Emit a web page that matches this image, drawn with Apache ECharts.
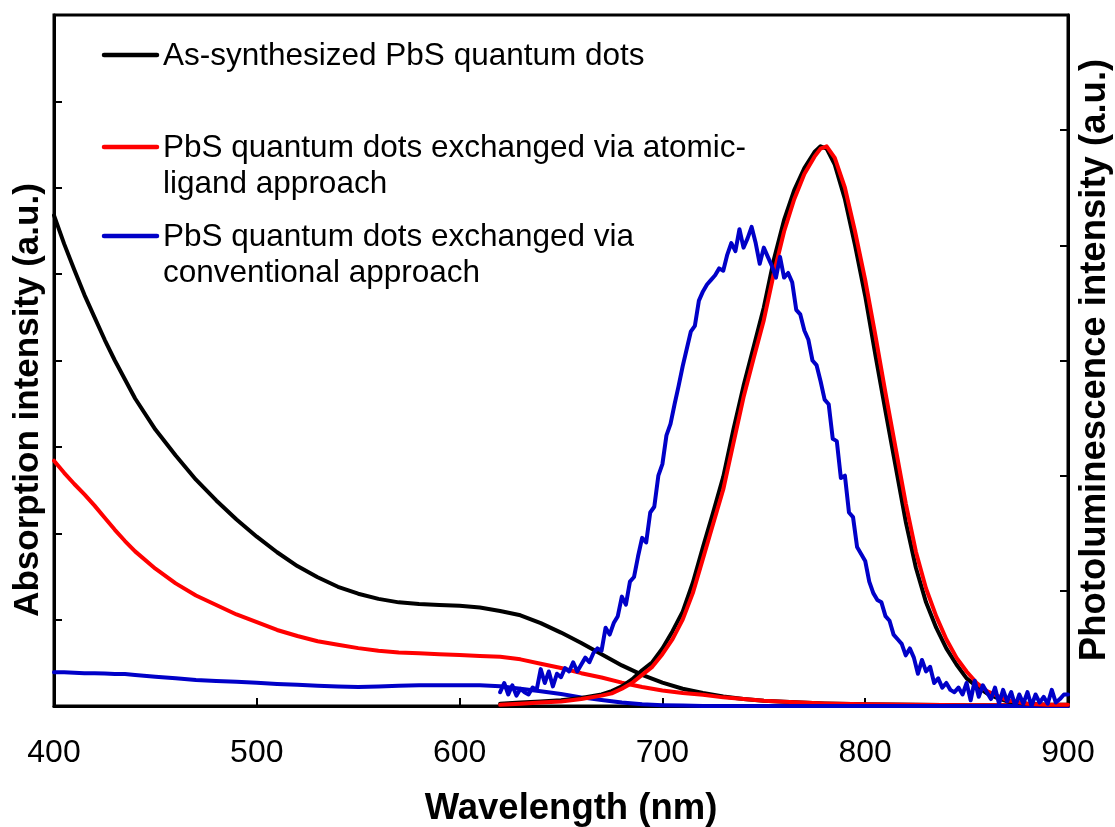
<!DOCTYPE html>
<html>
<head>
<meta charset="utf-8">
<script src="https://cdn.jsdelivr.net/npm/echarts@6/dist/echarts.min.js"></script>
<style>
html,body{margin:0;padding:0;background:#fff;}
#chart{width:1115px;height:827px;}
</style>
</head>
<body>
<div id="chart"></div>
<script>
// ---------- DATA ----------
const seriesNames = [
  'As-synthesized PbS quantum dots',
  'PbS quantum dots exchanged via atomic-\nligand approach',
  'PbS quantum dots exchanged via\nconventional approach'
];
const xTicks = [400, 500, 600, 700, 800, 900];

// Absorption (left axis)
const absWave = [400,405,410,415,420,425,430,435,440,450,460,470,480,490,500,510,520,530,540,550,560,570,580,590,600,610,620,630,640,650,660,670,680,690,700,710,720,730,740,750,760,780,800,850,900];
const absBlack = [5.68,5.35,5.05,4.76,4.5,4.24,4.0,3.78,3.56,3.2,2.9,2.62,2.38,2.16,1.96,1.78,1.62,1.49,1.38,1.3,1.24,1.2,1.18,1.17,1.16,1.14,1.1,1.05,0.96,0.85,0.73,0.6,0.47,0.36,0.27,0.2,0.15,0.11,0.08,0.06,0.05,0.03,0.02,0.01,0.01];
const absRed = [2.84,2.7,2.57,2.45,2.32,2.18,2.04,1.91,1.79,1.59,1.42,1.28,1.17,1.06,0.97,0.88,0.81,0.75,0.71,0.67,0.64,0.62,0.61,0.6,0.59,0.58,0.57,0.54,0.49,0.44,0.38,0.33,0.27,0.22,0.18,0.15,0.13,0.1,0.08,0.06,0.05,0.03,0.02,0.01,0.01];
const absBlue = [0.39,0.39,0.385,0.38,0.38,0.375,0.37,0.37,0.36,0.34,0.32,0.3,0.29,0.28,0.27,0.255,0.245,0.235,0.225,0.22,0.225,0.235,0.24,0.24,0.24,0.24,0.23,0.2,0.17,0.14,0.1,0.07,0.04,0.02,0.01,0.005,0,0,0,0,0,0,0,0,0];

// Photoluminescence (right axis)
const plWave = [620,630,640,650,660,670,675,680,685,690,695,700,705,710,715,720,725,730,735,740,745,750,755,760,765,770,775,778,781,785,790,795,800,805,810,815,820,825,830,835,840,845,850,855,860,865,870,880,890,900];
const plBlack = [0.02,0.03,0.04,0.05,0.07,0.1,0.13,0.17,0.23,0.31,0.38,0.5,0.65,0.82,1.07,1.38,1.68,1.99,2.4,2.78,3.12,3.46,3.88,4.22,4.48,4.67,4.81,4.86,4.84,4.7,4.4,4.0,3.56,3.05,2.56,2.08,1.6,1.2,0.9,0.68,0.5,0.36,0.24,0.17,0.11,0.07,0.04,0.02,0.01,0.01];
const plRed = [0.01,0.02,0.03,0.04,0.06,0.09,0.11,0.15,0.2,0.27,0.34,0.45,0.58,0.75,0.98,1.28,1.58,1.88,2.28,2.68,3.02,3.35,3.76,4.12,4.4,4.62,4.77,4.84,4.86,4.76,4.5,4.12,3.7,3.22,2.72,2.24,1.76,1.34,1.02,0.78,0.58,0.42,0.3,0.2,0.13,0.09,0.05,0.02,0.01,0.01];
const plBlue = [[620,0.12],[622,0.2],[624,0.1],[626,0.18],[628,0.09],[630,0.15],[632,0.12],[634,0.1],[636,0.16],[638,0.14],[640,0.32],[642,0.2],[644,0.3],[646,0.17],[648,0.28],[650,0.25],[652,0.33],[654,0.3],[656,0.38],[658,0.3],[660,0.36],[662,0.42],[664,0.38],[666,0.46],[668,0.5],[670,0.48],[672,0.68],[674,0.62],[676,0.72],[678,0.78],[680,0.95],[682,0.88],[684,1.08],[686,1.12],[688,1.3],[690,1.46],[692,1.42],[694,1.68],[696,1.73],[698,2.0],[700,2.1],[702,2.35],[704,2.45],[706,2.62],[708,2.78],[710,2.95],[712,3.1],[714,3.25],[716,3.3],[718,3.52],[720,3.6],[722,3.66],[724,3.7],[726,3.74],[728,3.8],[730,3.78],[732,3.92],[734,4.02],[736,3.95],[738,4.14],[740,3.98],[742,4.06],[744,4.16],[746,4.02],[748,3.84],[750,3.98],[752,3.9],[754,3.82],[756,3.72],[758,3.9],[760,3.72],[762,3.76],[764,3.68],[766,3.44],[768,3.4],[770,3.26],[772,3.18],[774,3.0],[776,2.96],[778,2.82],[780,2.66],[782,2.62],[784,2.32],[786,2.3],[788,1.98],[790,2.0],[792,1.68],[794,1.64],[796,1.38],[798,1.32],[800,1.26],[802,1.08],[804,0.98],[806,0.92],[808,0.9],[810,0.78],[812,0.74],[814,0.62],[816,0.58],[818,0.54],[820,0.44],[822,0.5],[824,0.42],[826,0.28],[828,0.4],[830,0.3],[832,0.34],[834,0.2],[836,0.24],[838,0.16],[840,0.2],[842,0.14],[844,0.12],[846,0.16],[848,0.1],[850,0.2],[852,0.05],[854,0.22],[856,0.08],[858,0.18],[860,0.12],[862,0.06],[864,0.16],[866,0.02],[868,0.14],[870,0.04],[872,0.12],[874,0.0],[876,0.1],[878,0.02],[880,0.12],[882,0.0],[884,0.1],[886,0.03],[888,0.08],[890,0.02],[892,0.14],[894,0.03],[896,0.06],[898,0.1],[900,0.1]];

const colors = ['#000000', '#ff0000', '#0000c8'];
// ---------- CHART ----------
const zip = (xs, ys) => xs.map((x, i) => [x, ys[i]]);
const FONT = '"Liberation Sans", Arial, sans-serif';
const chart = echarts.init(document.getElementById('chart'), null, {renderer: 'canvas'});

const G = {left: 54, right: 47, top: 15, bottom: 121};
function lineSeries(name, data, color, yIdx, z) {
  return {name, type: 'line', data, yAxisIndex: yIdx, showSymbol: false, symbol: 'none',
    smooth: false,
    lineStyle: {color, width: 4, join: 'round', cap: 'round'}, z, silent: true};
}

const legendGraphics = [];
const legendY = [55, 147, 236];
seriesNames.forEach((n, i) => {
  legendGraphics.push({type: 'line', shape: {x1: 104, y1: legendY[i], x2: 157, y2: legendY[i]},
    style: {stroke: colors[i], lineWidth: 4.5, lineCap: 'round'}, z: 100});
  legendGraphics.push({type: 'text', x: 163, y: legendY[i] - 17,
    style: {text: n, font: '31.5px ' + FONT, fill: '#000', lineHeight: 36,
      textAlign: 'left', textVerticalAlign: 'top', align: 'left', verticalAlign: 'top'}, z: 100});
});

chart.setOption({
  animation: false,
  backgroundColor: '#fff',
  grid: {left: G.left, right: G.right, top: G.top, bottom: G.bottom, show: true,
    borderColor: '#000', borderWidth: 3, backgroundColor: 'transparent'},
  xAxis: {
    type: 'value', min: 400, max: 900, interval: 100,
    axisLine: {show: true, lineStyle: {color: '#000', width: 3}},
    axisTick: {show: true, inside: true, length: 8, lineStyle: {color: '#000', width: 2}},
    axisLabel: {show: true, margin: 31, color: '#000', fontSize: 32, fontFamily: FONT,
      formatter: v => (xTicks.indexOf(v) >= 0 ? String(v) : '')},
    splitLine: {show: false}
  },
  yAxis: [
    {type: 'value', min: 0, max: 8, interval: 1, position: 'left',
      axisLine: {show: true, lineStyle: {color: '#000', width: 3}},
      axisTick: {show: true, inside: true, length: 8, lineStyle: {color: '#000', width: 2}},
      axisLabel: {show: false}, splitLine: {show: false}},
    {type: 'value', min: 0, max: 6, interval: 1, position: 'right',
      axisLine: {show: true, lineStyle: {color: '#000', width: 3}},
      axisTick: {show: true, inside: true, length: 8, lineStyle: {color: '#000', width: 2}},
      axisLabel: {show: false}, splitLine: {show: false}}
  ],
  series: [
    lineSeries(seriesNames[0] + ' abs', zip(absWave, absBlack), colors[0], 0, 2),
    lineSeries(seriesNames[1] + ' abs', zip(absWave, absRed), colors[1], 0, 2),
    lineSeries(seriesNames[2] + ' abs', zip(absWave, absBlue), colors[2], 0, 2),
    lineSeries(seriesNames[0] + ' PL', zip(plWave, plBlack), colors[0], 1, 3),
    lineSeries(seriesNames[1] + ' PL', zip(plWave, plRed), colors[1], 1, 4),
    lineSeries(seriesNames[2] + ' PL', plBlue, colors[2], 1, 5)
  ],
  graphic: [
    {type: 'text', x: 571, y: 809,
      style: {text: 'Wavelength (nm)', font: 'bold 36.5px ' + FONT, fill: '#000',
        textAlign: 'center', textVerticalAlign: 'middle', align: 'center', verticalAlign: 'middle'}},
    {type: 'text', x: 28, y: 400, rotation: Math.PI / 2,
      style: {text: 'Absorption intensity (a.u.)', font: 'bold 35px ' + FONT, fill: '#000',
        textAlign: 'center', textVerticalAlign: 'middle', align: 'center', verticalAlign: 'middle'}},
    {type: 'text', x: 1095, y: 360, rotation: Math.PI / 2,
      style: {text: 'Photoluminescence intensity (a.u.)', font: 'bold 36.5px ' + FONT, fill: '#000',
        textAlign: 'center', textVerticalAlign: 'middle', align: 'center', verticalAlign: 'middle'}}
  ].concat(legendGraphics)
});
</script>
</body>
</html>
